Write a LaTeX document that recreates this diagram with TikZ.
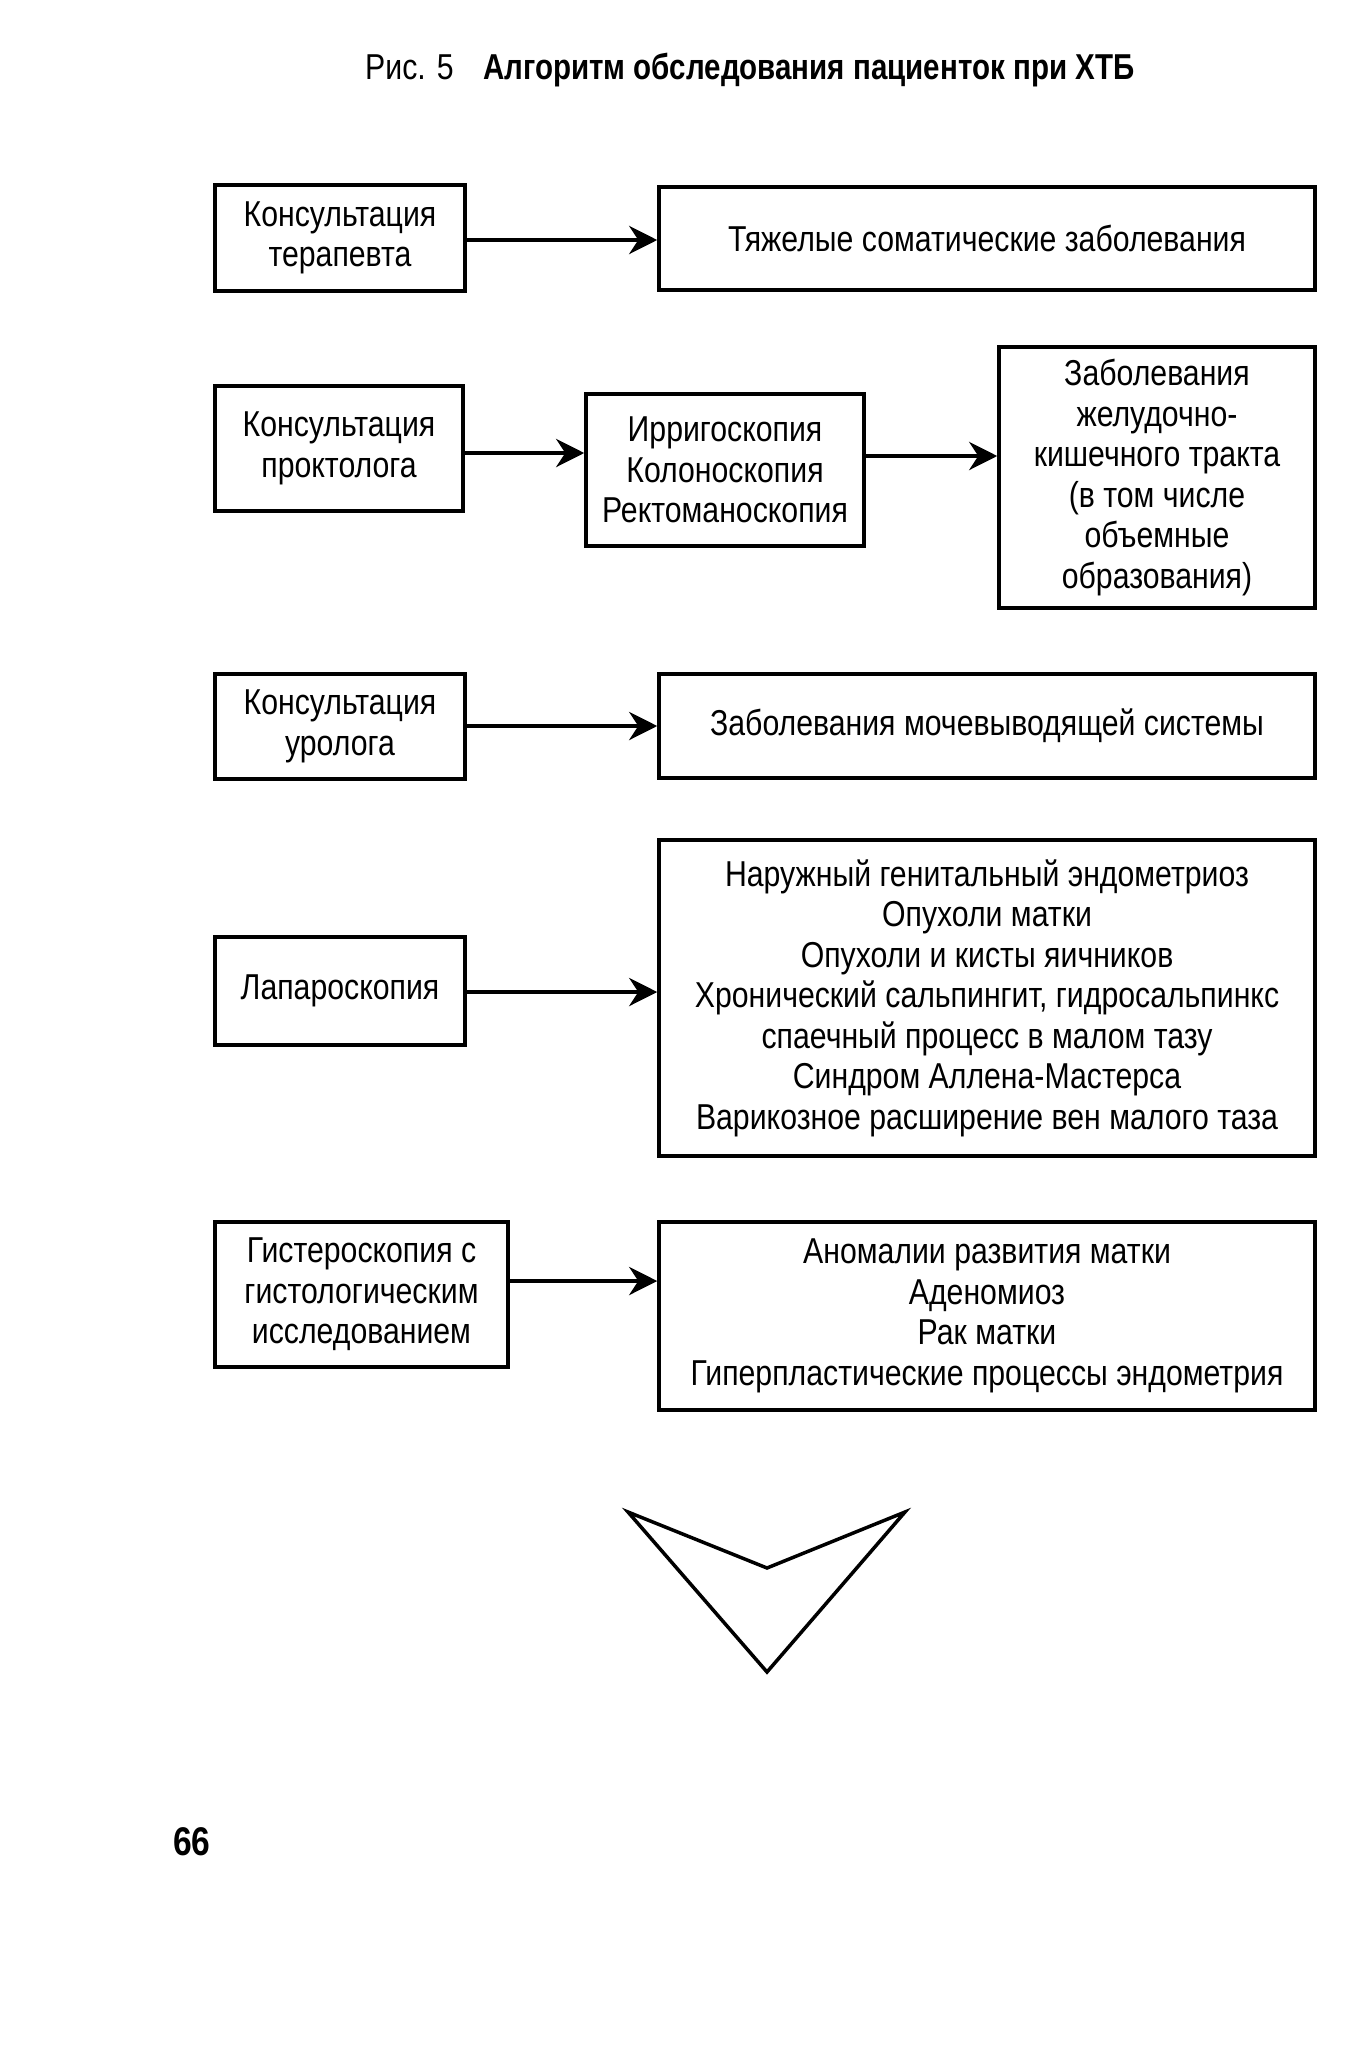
\documentclass[tikz,border=0pt]{standalone}
\usepackage{fontspec}
\setmainfont{Liberation Sans}[FakeStretch=0.84]
\usetikzlibrary{arrows.meta}
\begin{document}
\begin{tikzpicture}[x=1pt,y=-1pt,
  box/.style={draw, line width=3.5pt, inner sep=0pt, align=center,
    font=\fontsize{36}{40.5}\selectfont},
  conn/.style={line width=4.5pt, -{Stealth[length=28pt,width=28pt,inset=9pt]}},
  ttl/.style={anchor=base west, inner sep=0pt, font=\fontsize{36}{40}\selectfont}]
\useasboundingbox (0,0) rectangle (1371,2050);
% title
\node[ttl] (t1) at (365,79) {Рис. 5};
\node[ttl, font=\fontsize{36}{40}\selectfont\bfseries] (t2) at (483,79) {\addfontfeature{FakeStretch=0.82}Алгоритм обследования пациенток при ХТБ};
% row 1
\node[box, minimum width=250pt, minimum height=106pt] (a1) at (340,238) {Консультация\\терапевта};
\node[box, minimum width=656pt, minimum height=103pt] (b1) at (987,238.5) {Тяжелые соматические заболевания};
\draw[conn] (a1.east |- 0,240) -- (b1.west |- 0,240);
% row 2
\node[box, minimum width=248pt, minimum height=125pt] (a2) at (339,448.5) {Консультация\\проктолога};
\node[box, minimum width=278pt, minimum height=152pt] (m2) at (725,470) {Ирригоскопия\\Колоноскопия\\Ректоманоскопия};
\node[box, minimum width=316pt, minimum height=261pt] (b2) at (1157,477.5) {Заболевания\\желудочно-\\кишечного тракта\\(в том числе\\объемные\\образования)};
\draw[conn] (a2.east |- 0,453) -- (m2.west |- 0,453);
\draw[conn] (m2.east |- 0,456) -- (b2.west |- 0,456);
% row 3
\node[box, minimum width=250pt, minimum height=105pt] (a3) at (340,726.5) {Консультация\\уролога};
\node[box, minimum width=656pt, minimum height=104pt] (b3) at (987,726) {Заболевания мочевыводящей системы};
\draw[conn] (a3.east |- 0,726) -- (b3.west |- 0,726);
% row 4
\node[box, minimum width=250pt, minimum height=108pt] (a4) at (340,991) {Лапароскопия};
\node[box, minimum width=656pt, minimum height=316pt] (b4) at (987,998) {Наружный генитальный эндометриоз\\Опухоли матки\\Опухоли и кисты яичников\\Хронический сальпингит, гидросальпинкс\\спаечный процесс в малом тазу\\Синдром Аллена-Мастерса\\Варикозное расширение вен малого таза};
\draw[conn] (a4.east |- 0,992) -- (b4.west |- 0,992);
% row 5
\node[box, minimum width=293pt, minimum height=145pt] (a5) at (361.5,1294.5) {Гистероскопия с\\гистологическим\\исследованием};
\node[box, minimum width=656pt, minimum height=188pt] (b5) at (987,1316) {Аномалии развития матки\\Аденомиоз\\Рак матки\\Гиперпластические процессы эндометрия};
\draw[conn] (a5.east |- 0,1281) -- (b5.west |- 0,1281);
% big chevron arrow
\draw[line width=3.5pt, line join=miter] (628,1512) -- (767,1568) -- (905,1512) -- (767,1672) -- cycle;
% page number
\node[inner sep=0pt, font=\fontsize{40}{44}\selectfont\bfseries] (pg) at (192,1842) {66};
\end{tikzpicture}
\end{document}
